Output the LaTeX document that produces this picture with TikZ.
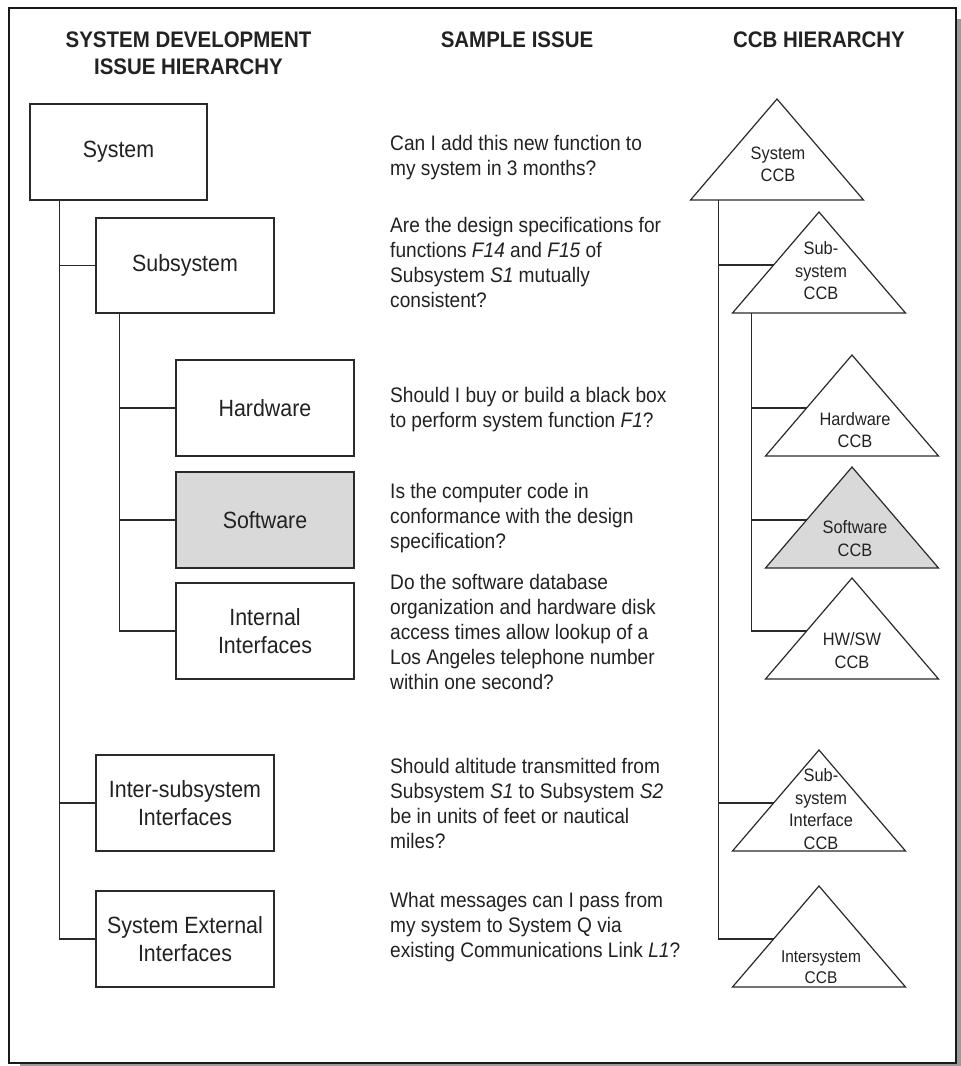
\documentclass[tikz,border=0pt]{standalone}
\usepackage{fontspec}
\setmainfont{Liberation Sans}[FakeStretch=0.91]
\usetikzlibrary{calc}

\definecolor{ink}{HTML}{222222}
\definecolor{rule}{HTML}{2A2A2A}
\definecolor{shade}{HTML}{D9D9D9}
\definecolor{dropshade}{HTML}{9A9A9A}

\tikzset{
  link/.style={draw=rule, line width=1.3pt},
  issuebox/.style={draw=rule, line width=1.4pt, minimum width=178pt,
    minimum height=96pt, inner sep=0pt, align=center, text=ink,
    font=\fontsize{23.5}{28}\selectfont},
  ccbtext/.style={inner sep=0pt, align=center, text=ink,
    font=\fontsize{18}{22.5}\selectfont},
  smallccbtext/.style={ccbtext, font=\fontsize{17}{20.5}\selectfont},
  % multi-line texts are placed by the baseline of their last line
  issuetext/.style={inner sep=0pt, anchor=base west, align=left, text=ink,
    font=\fontsize{21}{25}\selectfont},
  colhead/.style={inner sep=0pt, anchor=base, align=center, text=ink,
    font=\bfseries\fontsize{22.5}{27}\selectfont},
}

% CCB triangle: name, apex x, apex y, fill, label style, label x, label y, label
\newcommand\ccbtri[8]{%
  \path[fill=#4, draw=rule, line width=1.2pt, line join=miter]
    (#2,#3) coordinate (#1-apex) -- ++(86.5,101) coordinate (#1-br)
    -- ++(-173,0) coordinate (#1-bl) -- cycle;
  \coordinate (#1-in) at ($(#1-apex)!0.525!(#1-bl)$);
  \node[#5] (#1) at (#6,#7) {#8};
}

\begin{document}
\begin{tikzpicture}[x=1pt, y=-1pt]
\useasboundingbox (0,0) rectangle (961,1066);

% page frame with drop shadow
\fill[dropshade] (20,19) rectangle (961,1066);
\draw[fill=white, draw=black!90, line width=2pt] (9,8) rectangle (956,1063);

% column headings
\node[colhead] (h1) at (188.5,74) {SYSTEM DEVELOPMENT\\ISSUE HIERARCHY};
\node[colhead] (h2) at (517,47) {SAMPLE ISSUE};
\node[colhead] (h3) at (819,47) {CCB HIERARCHY};

% issue hierarchy boxes
\node[issuebox, minimum width=177pt] (sys) at (118.5,152) {System};
\node[issuebox, minimum height=95pt] (subsys) at (185,265.5) {Subsystem};
\node[issuebox] (hw) at (265,408) {Hardware};
\node[issuebox, fill=shade] (sw) at (265,520) {Software};
\node[issuebox] (iif) at (265,631) {Internal\\Interfaces};
\node[issuebox] (isi) at (185,803) {Inter-subsystem\\Interfaces};
\node[issuebox] (sei) at (185,939) {System External\\Interfaces};

% issue hierarchy connectors
\coordinate (trunkA) at ($(sys.south west)+(30,0)$);
\draw[link] (trunkA) |- (sei.west);
\draw[link] (subsys.west) -- (subsys.west -| trunkA);
\draw[link] (isi.west) -- (isi.west -| trunkA);
\coordinate (trunkB) at ($(subsys.south west)+(24,0)$);
\draw[link] (trunkB) |- (iif.west);
\draw[link] (hw.west) -- (hw.west -| trunkB);
\draw[link] (sw.west) -- (sw.west -| trunkB);

% sample issues
\node[issuetext] (q1) at (390,175) {Can I add this new function to\\my system in 3 months?};
\node[issuetext] (q2) at (390,307) {Are the design specifications for\\functions \textit{F14} and \textit{F15} of\\Subsystem \textit{S1} mutually\\consistent?};
\node[issuetext] (q3) at (390,427) {Should I buy or build a black box\\to perform system function \textit{F1}?};
\node[issuetext] (q4) at (390,548) {Is the computer code in\\conformance with the design\\specification?};
\node[issuetext] (q5) at (390,689) {Do the software database\\organization and hardware disk\\access times allow lookup of a\\Los Angeles telephone number\\within one second?};
\node[issuetext] (q6) at (390,848) {Should altitude transmitted from\\Subsystem \textit{S1} to Subsystem \textit{S2}\\be in units of feet or nautical\\miles?};
\node[issuetext] (q7) at (390,957) {What messages can I pass from\\my system to System Q via\\existing Communications Link \textit{L1}?};

% CCB hierarchy triangles
\ccbtri{sysccb}{777}{99}{white}{ccbtext}{778}{164.5}{System\\CCB}
\ccbtri{subccb}{819}{212}{white}{ccbtext}{821}{271}{Sub-\\system\\CCB}
\ccbtri{hwccb}{852}{355}{white}{ccbtext}{855}{430}{Hardware\\CCB}
\ccbtri{swccb}{852}{467}{shade}{ccbtext}{855}{538.5}{Software\\CCB}
\ccbtri{hwswccb}{852}{578}{white}{ccbtext}{852}{650.5}{HW/SW\\CCB}
\ccbtri{sifccb}{819}{750}{white}{ccbtext}{821}{809}{Sub-\\system\\Interface\\CCB}
\ccbtri{intccb}{819}{886}{white}{smallccbtext}{821}{967}{Intersystem\\CCB}

% CCB hierarchy connectors
\coordinate (trunkC) at ($(sysccb-bl)+(28,0)$);
\draw[link] (trunkC) |- (intccb-in);
\draw[link] (subccb-in) -- (subccb-in -| trunkC);
\draw[link] (sifccb-in) -- (sifccb-in -| trunkC);
\coordinate (trunkD) at ($(subccb-bl)+(19,0)$);
\draw[link] (trunkD) |- (hwswccb-in);
\draw[link] (hwccb-in) -- (hwccb-in -| trunkD);
\draw[link] (swccb-in) -- (swccb-in -| trunkD);
\end{tikzpicture}
\end{document}
